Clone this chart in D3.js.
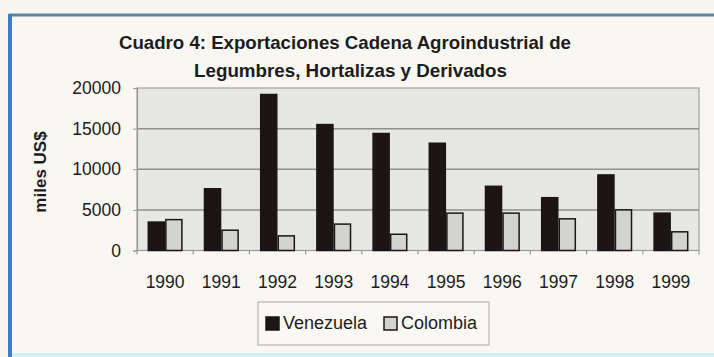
<!DOCTYPE html>
<html>
<head>
<meta charset="utf-8">
<script src="https://cdn.jsdelivr.net/npm/d3@7"></script>
<style>
  html, body { margin: 0; padding: 0; background: #f5f4ee; }
  svg { display: block; }
  text { font-family: "Liberation Sans", Arial, sans-serif; fill: #1c1c1c; }
</style>
</head>
<body>
<svg id="chart" width="714" height="357"></svg>
<script>
// Exportaciones (miles US$) por año
const years = ["1990", "1991", "1992", "1993", "1994", "1995", "1996", "1997", "1998", "1999"];
const seriesNames = ["Venezuela", "Colombia"];
const venezuela = [3500, 7600, 19200, 15500, 14400, 13200, 7900, 6500, 9300, 4600];
const colombia  = [3800, 2500, 1800, 3250, 2000, 4600, 4600, 3900, 5000, 2300];
const yTicks = [0, 5000, 10000, 15000, 20000];
const titleLines = ["Cuadro 4: Exportaciones Cadena Agroindustrial de", "Legumbres, Hortalizas y Derivados"];
const yTitle = "miles US$";

const colors = { Venezuela: "#1b1515", Colombia: "#d3d3d0" };
const values = { Venezuela: venezuela, Colombia: colombia };

const svg = d3.select("#chart");

// page frame
svg.append("rect").attr("x", 0).attr("y", 0).attr("width", 714).attr("height", 357).attr("fill", "#f6f5ef");
svg.append("rect").attr("x", 10).attr("y", 15).attr("width", 704).attr("height", 338).attr("fill", "#f8f7f2");
svg.append("line").attr("x1", 9).attr("x2", 714).attr("y1", 15).attr("y2", 15)
  .attr("stroke", "#5a86a6").attr("stroke-width", 3);
svg.append("line").attr("x1", 10).attr("x2", 10).attr("y1", 14).attr("y2", 357)
  .attr("stroke", "#3f7dc2").attr("stroke-width", 4);
svg.append("line").attr("x1", 12).attr("x2", 714).attr("y1", 355).attr("y2", 355)
  .attr("stroke", "#d2eff4").attr("stroke-width", 4);

const plot = { left: 137, right: 699, top: 88, bottom: 250.5 };

const x0 = d3.scaleBand().domain(years).range([plot.left, plot.right])
  .paddingInner(0.375).paddingOuter(0.1875);
const x1 = d3.scaleBand().domain(seriesNames).range([0, x0.bandwidth()]);
const y = d3.scaleLinear().domain([0, 20000]).range([plot.bottom, plot.top]);

// plot area
svg.append("rect")
  .attr("x", plot.left).attr("y", plot.top)
  .attr("width", plot.right - plot.left).attr("height", plot.bottom - plot.top)
  .attr("fill", "#e7e7e4").attr("stroke", "#a2a2a0").attr("stroke-width", 1.2);

// gridlines
svg.append("g").selectAll("line")
  .data(yTicks.filter(t => t > 0 && t < 20000))
  .join("line")
  .attr("x1", plot.left).attr("x2", plot.right)
  .attr("y1", d => y(d)).attr("y2", d => y(d))
  .attr("stroke", "#8f8f8d").attr("stroke-width", 1.5);

// y axis
const yAxis = svg.append("g")
  .attr("transform", `translate(${plot.left},0)`)
  .call(d3.axisLeft(y).tickValues(yTicks).tickSize(4).tickPadding(12).tickFormat(d3.format("d")));
yAxis.select(".domain").attr("stroke", "#9a9a98").attr("stroke-width", 1.2);
yAxis.selectAll(".tick line").attr("stroke", "#9a9a98");
yAxis.selectAll(".tick text")
  .attr("font-size", 17.5).attr("fill", "#1c1c1c")
  .style("font-family", "'Liberation Sans', Arial, sans-serif");

// x axis with ticks at category boundaries
const xAxisG = svg.append("g").attr("transform", `translate(0,${plot.bottom})`);
xAxisG.append("line").attr("x1", plot.left).attr("x2", plot.right).attr("y1", 0).attr("y2", 0)
  .attr("stroke", "#9a9a98").attr("stroke-width", 1.2);
const step = x0.step();
xAxisG.selectAll("line.tk")
  .data(d3.range(years.length + 1))
  .join("line").attr("class", "tk")
  .attr("x1", i => plot.left + i * step).attr("x2", i => plot.left + i * step)
  .attr("y1", 0).attr("y2", 4)
  .attr("stroke", "#9a9a98").attr("stroke-width", 1.2);
xAxisG.selectAll("text")
  .data(years)
  .join("text")
  .attr("x", d => x0(d) + x0.bandwidth() / 2)
  .attr("y", 37)
  .attr("text-anchor", "middle")
  .attr("font-size", 17.5)
  .text(d => d);

// bars
const groups = svg.append("g").selectAll("g")
  .data(years)
  .join("g")
  .attr("transform", d => `translate(${x0(d)},0)`);
groups.selectAll("rect")
  .data((d, i) => seriesNames.map(s => ({ key: s, value: values[s][i] })))
  .join("rect")
  .attr("x", d => x1(d.key) + 0.75)
  .attr("width", x1.bandwidth() - 1.5)
  .attr("y", d => y(d.value))
  .attr("height", d => y(0) - y(d.value))
  .attr("fill", d => colors[d.key])
  .attr("stroke", "#1a1616")
  .attr("stroke-width", 1.5);

// title
const titleX = [119, 194];
const titleW = [452, 313];
const titleY = [49, 77];
svg.append("g").selectAll("text")
  .data(titleLines)
  .join("text")
  .attr("x", (d, i) => titleX[i])
  .attr("y", (d, i) => titleY[i])
  .attr("font-size", 19)
  .attr("font-weight", "bold")
  .attr("textLength", (d, i) => titleW[i])
  .attr("lengthAdjust", "spacingAndGlyphs")
  .text(d => d);

// y-axis title
svg.append("text")
  .attr("transform", "translate(46,172) rotate(-90)")
  .attr("text-anchor", "middle")
  .attr("font-size", 17)
  .attr("font-weight", "bold")
  .text(yTitle);

// legend
const legend = svg.append("g");
legend.append("rect")
  .attr("x", 258).attr("y", 302).attr("width", 231).attr("height", 43)
  .attr("fill", "#f9f8f4").attr("stroke", "#b5b5b2").attr("stroke-width", 1.2);
const legX = [266, 384];
const items = legend.selectAll("g.item")
  .data(seriesNames)
  .join("g").attr("class", "item")
  .attr("transform", (d, i) => `translate(${legX[i]},317)`);
items.append("rect")
  .attr("width", 13).attr("height", 13)
  .attr("fill", d => colors[d])
  .attr("stroke", "#1a1616").attr("stroke-width", 1.5);
items.append("text")
  .attr("x", 17).attr("y", 12)
  .attr("font-size", 18)
  .text(d => d);
</script>
</body>
</html>
